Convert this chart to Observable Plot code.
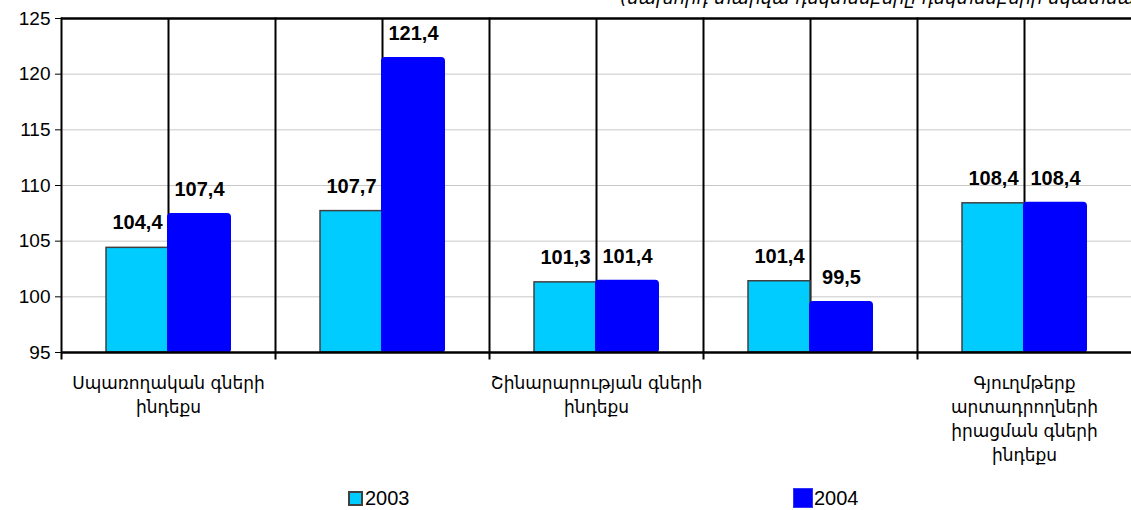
<!DOCTYPE html>
<html>
<head>
<meta charset="utf-8">
<script src="https://cdn.jsdelivr.net/npm/d3@7"></script>
<script src="https://cdn.jsdelivr.net/npm/@observablehq/plot@0.6"></script>
<style>
  html, body { margin: 0; padding: 0; background: #fff; }
  body { width: 1131px; height: 510px; position: relative; overflow: hidden; font-family: "Liberation Sans", Arial, sans-serif; }
  #subtitle { position: absolute; left: 620px; top: -13px; white-space: nowrap; font-family: "DejaVu Sans", sans-serif; font-style: italic; font-size: 18px; color: #000; }
  #chart { position: absolute; left: 0; top: 0; }
  .legend { position: absolute; top: 486px; font-size: 20px; display: flex; align-items: center; height: 24px; }
  .sw { display: inline-block; width: 15px; height: 15px; margin-right: 2px; box-sizing: border-box; }
</style>
</head>
<body>
<div id="subtitle">(նախորդ տարվա դեկտեմբերը դեկտեմբերի նկատմամբ)</div>
<div id="chart"></div>
<div class="legend" style="left:348px"><span class="sw" style="background:#00CCFF;border:2px solid #404040"></span>2003</div>
<div class="legend" style="left:793px"><span class="sw" style="background:#0000FF;width:20px;height:20px;border:1px solid #3333ff;margin-right:1px"></span>2004</div>
<script>
const categories = ["C1", "C2", "C3", "C4", "C5"];
const tickLabels = [
  "Սպառողական գների\nինդեքս",
  "",
  "Շինարարության գների\nինդեքս",
  "",
  "Գյուղմթերք\nարտադրողների\nիրացման գների\nինդեքս"
];
const series = ["2003", "2004"];
const values2003 = [104.4, 107.7, 101.3, 101.4, 108.4];
const values2004 = [107.4, 121.4, 101.4, 99.5, 108.4];
const yTicks = [95, 100, 105, 110, 115, 120, 125];
const colors = ["#00CCFF", "#0000FF"];

const data = [];
categories.forEach((c, i) => {
  data.push({cat: c, series: "2003", value: values2003[i]});
  data.push({cat: c, series: "2004", value: values2004[i]});
});
const fmt = v => v.toFixed(1).replace(".", ",");
const font = "Liberation Sans, Arial, sans-serif";

const plot = Plot.plot({
  width: 1131,
  height: 475,
  marginTop: 18,
  marginBottom: 123,
  marginLeft: 60,
  marginRight: 0,
  style: {fontFamily: font, fontSize: "18px", background: "transparent", overflow: "visible"},
  fx: {domain: categories, padding: 0, axis: null, label: null},
  x: {domain: series, paddingInner: 0, paddingOuter: 0.7, axis: null, label: null},
  y: {domain: [95, 125], ticks: yTicks, axis: null, label: null},
  color: {domain: series, range: colors},
  marks: [
    Plot.gridY({ticks: yTicks, stroke: "#c8c8c8", strokeOpacity: 1, strokeWidth: 1}),
    Plot.gridFx({stroke: "#000", strokeOpacity: 1, strokeWidth: 2}),
    Plot.frame({anchor: "left", stroke: "#000", strokeWidth: 2, insetBottom: -6}),
    Plot.ruleY([125], {stroke: "#000", strokeWidth: 2.5}),
    Plot.barY(data.filter(d => d.series === "2003"), {
      fx: "cat", x: "series", y1: 95, y2: "value",
      fill: "series", stroke: "#404040", strokeWidth: 1.5
    }),
    Plot.barY(data.filter(d => d.series === "2004"), {
      fx: "cat", x: "series", y1: 95, y2: "value",
      fill: "series", stroke: "#0000FF", strokeWidth: 2, rx: 3
    }),
    Plot.ruleY([95], {stroke: "#000", strokeWidth: 2.5}),
    Plot.text(data, {
      fx: "cat", x: "series", y: "value", text: d => fmt(d.value),
      dy: -25, fontWeight: "bold", fontSize: 20, fill: "#000", fontFamily: font
    }),
    Plot.axisY({ticks: yTicks, tickSize: 6, tickPadding: 5, fontSize: 19, fontFamily: font, label: null}),
    Plot.axisFx({
      anchor: "bottom", tickSize: 0, tickPadding: 20, lineHeight: 1.4, label: null,
      tickFormat: c => tickLabels[categories.indexOf(c)],
      fontSize: 17, fontFamily: "DejaVu Sans, sans-serif", textAnchor: "middle", lineAnchor: "top"
    })
  ]
});
document.getElementById("chart").appendChild(plot);
</script>
</body>
</html>
